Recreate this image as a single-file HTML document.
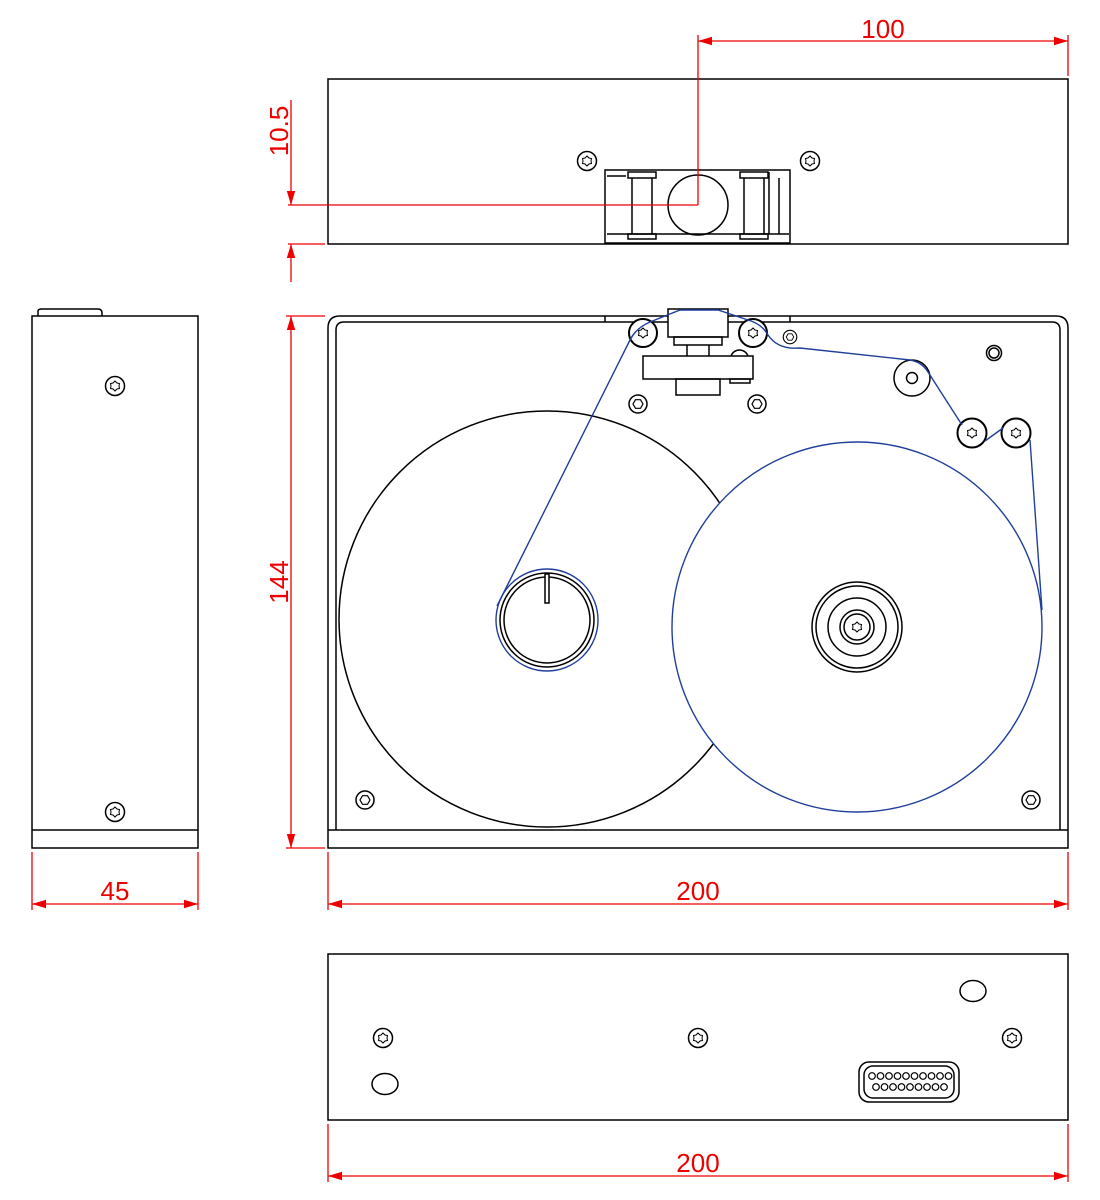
<!DOCTYPE html>
<html><head><meta charset="utf-8"><style>html,body{margin:0;padding:0;background:#fff}svg{display:block}</style></head>
<body>
<svg width="1100" height="1200" viewBox="0 0 1100 1200" xmlns="http://www.w3.org/2000/svg">
<defs>
<g id="star"><polygon points="0,-5 2,-3 4.5,-2.5 4,0 4.5,2.5 2,3 0,5 -2,3 -4.5,2.5 -4,0 -4.5,-2.5 -2,-3" fill="none" stroke="#000" stroke-width="1"/></g>
<g id="scr"><circle r="9.5" fill="#fff" stroke="#000" stroke-width="1.5"/><use href="#star"/></g>
<g id="hex"><circle r="9" fill="#fff" stroke="#000" stroke-width="1.5"/><polygon points="5,0 2.5,4.3 -2.5,4.3 -5,0 -2.5,-4.3 2.5,-4.3" fill="none" stroke="#000" stroke-width="1.2"/></g>
<marker id="ar" viewBox="0 0 10 10" refX="10" refY="5" markerWidth="14" markerHeight="14" markerUnits="userSpaceOnUse" orient="auto-start-reverse"><path d="M0,2 L10,5 L0,8 z" fill="#e00"/></marker>
</defs>
<g fill="none" stroke="#000" stroke-width="1.5">
<rect x="328" y="79" width="740" height="165"/>
<rect x="605" y="170" width="185" height="73" fill="#fff"/>
<line x1="607" y1="234" x2="789" y2="234"/>
<rect x="628" y="172" width="28" height="6"/><rect x="740" y="172" width="28" height="6"/>
<rect x="628" y="234" width="28" height="5"/><rect x="740" y="234" width="28" height="5"/>
<line x1="632" y1="178" x2="632" y2="234"/><line x1="652" y1="178" x2="652" y2="234"/>
<line x1="744" y1="178" x2="744" y2="234"/><line x1="764" y1="178" x2="764" y2="234"/>
<line x1="769" y1="172" x2="769" y2="234"/><line x1="779" y1="178" x2="779" y2="234"/>
<line x1="607" y1="176" x2="626" y2="176"/>
<circle cx="698" cy="205" r="30"/>
<path d="M38,316 V311 Q38,309 42,309 H98 Q102,309 102,313 V316"/>
<rect x="32" y="316" width="166" height="532"/>
<line x1="32" y1="830" x2="198" y2="830"/>
<path d="M328,848 V328 Q328,316 340,316 H1056 Q1068,316 1068,328 V848 Z"/>
<path d="M336,830 V330 Q336,322 344,322 H1052 Q1060,322 1060,330 V830"/>
<line x1="328" y1="830" x2="1068" y2="830"/>
<line x1="605" y1="316" x2="605" y2="322"/><line x1="790" y1="316" x2="790" y2="322"/>
<circle cx="547" cy="619" r="208" fill="#fff"/>
<circle cx="857" cy="627" r="185" fill="#fff" stroke="none"/>
<circle cx="547" cy="620" r="47"/><circle cx="547" cy="620" r="43"/>
<rect x="545" y="574" width="4" height="29" fill="#fff"/>
<rect x="668" y="309" width="60" height="28" fill="#fff"/>
<rect x="674" y="337" width="48" height="8"/>
<line x1="687" y1="345" x2="687" y2="356"/><line x1="709" y1="345" x2="709" y2="356"/>
<rect x="643" y="356" width="110" height="23" fill="#fff"/>
<rect x="676" y="379" width="44" height="16"/>
<path d="M731,356 A9,9 0 0 1 748,356"/>
<rect x="730" y="379" width="20" height="4"/>
<circle cx="643" cy="333" r="14" fill="#fff" stroke-width="2"/><circle cx="753" cy="333" r="14" fill="#fff" stroke-width="2"/>
<circle cx="912" cy="378" r="18"/><circle cx="912" cy="378" r="5.5"/>
<circle cx="972" cy="433" r="14.5" stroke-width="2"/><circle cx="1016" cy="433" r="14.5" stroke-width="2"/>
<circle cx="994" cy="353" r="7.5"/><circle cx="994" cy="353" r="5"/>
<circle cx="857" cy="627" r="45"/><circle cx="857" cy="627" r="41"/><circle cx="857" cy="627" r="29"/><circle cx="857" cy="627" r="17"/><circle cx="857" cy="627" r="13"/>
<rect x="328" y="954" width="740" height="166"/>
<ellipse cx="385" cy="1084" rx="13" ry="10.5"/>
<ellipse cx="973" cy="991" rx="13" ry="10.5"/>
<rect x="859" y="1062" width="100" height="40" rx="10"/>
<rect x="864" y="1066" width="90" height="32" rx="9"/>
</g>
<g fill="none" stroke="#000" stroke-width="1.2">
<circle cx="872" cy="1076" r="3.3"/><circle cx="880.5" cy="1076" r="3.3"/><circle cx="889" cy="1076" r="3.3"/><circle cx="897.5" cy="1076" r="3.3"/><circle cx="906" cy="1076" r="3.3"/><circle cx="914.5" cy="1076" r="3.3"/><circle cx="923" cy="1076" r="3.3"/><circle cx="931.5" cy="1076" r="3.3"/><circle cx="940" cy="1076" r="3.3"/><circle cx="948.5" cy="1076" r="3.3"/>
<circle cx="876" cy="1087" r="3.3"/><circle cx="884.5" cy="1087" r="3.3"/><circle cx="893" cy="1087" r="3.3"/><circle cx="901.5" cy="1087" r="3.3"/><circle cx="910" cy="1087" r="3.3"/><circle cx="918.5" cy="1087" r="3.3"/><circle cx="927" cy="1087" r="3.3"/><circle cx="935.5" cy="1087" r="3.3"/><circle cx="944" cy="1087" r="3.3"/>
</g>
<use href="#scr" x="587" y="161"/><use href="#scr" x="810" y="161"/>
<use href="#scr" x="115" y="386"/><use href="#scr" x="115" y="812"/>
<use href="#star" x="643" y="333"/><use href="#star" x="753" y="333"/>
<use href="#star" x="972" y="433"/><use href="#star" x="1016" y="433"/>
<use href="#scr" x="383" y="1038"/><use href="#scr" x="698" y="1038"/><use href="#scr" x="1012" y="1038"/>
<use href="#star" x="857" y="627"/>
<use href="#hex" x="638" y="404"/><use href="#hex" x="757" y="404"/><use href="#hex" x="365" y="800"/><use href="#hex" x="1031" y="800"/>
<g transform="translate(790,337) scale(0.75)"><use href="#hex"/></g>
<g fill="none" stroke="#1f3f9a" stroke-width="1.4">
<circle cx="857" cy="627" r="185"/>
<circle cx="547" cy="620" r="51"/>
<path d="M497,606 L630,340 Q636,328 650,322 L680,310 L718,310 L748,320 Q762,324 768,335 Q778,350 800,348 L910,360 Q922,362 928,372 L962,425"/>
<path d="M985,441 L1003,428"/>
<path d="M1030,440 L1042,610"/>
</g>
<g stroke="#e00" stroke-width="1.3" fill="none">
<line x1="698" y1="35" x2="698" y2="205"/>
<line x1="1068" y1="35" x2="1068" y2="76"/>
<line x1="698" y1="41" x2="1068" y2="41" marker-start="url(#ar)" marker-end="url(#ar)"/>
<line x1="288" y1="205" x2="698" y2="205"/>
<line x1="288" y1="244" x2="325" y2="244"/>
<line x1="291" y1="100" x2="291" y2="205" marker-end="url(#ar)"/>
<line x1="291" y1="282" x2="291" y2="244" marker-end="url(#ar)"/>
<line x1="286" y1="316" x2="325" y2="316"/>
<line x1="286" y1="848" x2="325" y2="848"/>
<line x1="291" y1="316" x2="291" y2="848" marker-start="url(#ar)" marker-end="url(#ar)"/>
<line x1="32" y1="852" x2="32" y2="910"/><line x1="198" y1="852" x2="198" y2="910"/>
<line x1="32" y1="904" x2="198" y2="904" marker-start="url(#ar)" marker-end="url(#ar)"/>
<line x1="328" y1="852" x2="328" y2="910"/><line x1="1068" y1="852" x2="1068" y2="910"/>
<line x1="328" y1="904" x2="1068" y2="904" marker-start="url(#ar)" marker-end="url(#ar)"/>
<line x1="328" y1="1124" x2="328" y2="1182"/><line x1="1068" y1="1124" x2="1068" y2="1182"/>
<line x1="328" y1="1176" x2="1068" y2="1176" marker-start="url(#ar)" marker-end="url(#ar)"/>
</g>
<g fill="#e00" font-family="Liberation Sans, sans-serif" font-size="26" text-anchor="middle">
<text x="883" y="38">100</text>
<text x="115" y="900">45</text>
<text x="698" y="900">200</text>
<text x="698" y="1172">200</text>
<text transform="translate(288,131) rotate(-90)">10.5</text>
<text transform="translate(288,582) rotate(-90)">144</text>
</g>
</svg>
</body></html>
